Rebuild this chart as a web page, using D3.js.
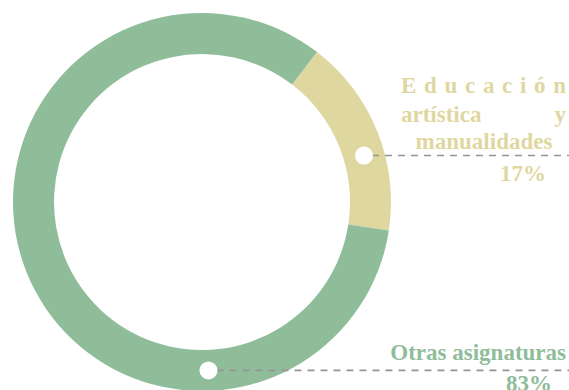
<!DOCTYPE html>
<html>
<head>
<meta charset="utf-8">
<script src="https://cdn.jsdelivr.net/npm/d3@7"></script>
<style>
	html, body { margin: 0; padding: 0; background: #fff; }
	svg { display: block; }
</style>
</head>
<body>
<div id="donut"></div>
<script>
var categories = ["Educación artística y manualidades", "Otras asignaturas"];
var values = [17, 83];
var percentLabels = ["17%", "83%"];

var w = 569,
	h = 390,
	cx = 202,
	cy = 202,
	outerR = 189,
	innerR = 148,
	startDeg = 37.5,
	colors = ["#dfd7a0", "#8fbd9a"],
	// where the white marker sits on each slice (degrees, clockwise from 12 o'clock)
	markerDeg = [74, 177.8];

var rad = function(d) { return d * Math.PI / 180; };

var svg = d3.select("#donut")
			.append("svg")
			.attr("width", w)
			.attr("height", h)

var ring = svg.append("g")
			.attr("transform", "translate(" + cx + "," + cy + ")")

var pie = d3.pie()
			.sort(null)
			.startAngle(rad(startDeg))
			.endAngle(rad(startDeg + 360))

var arc = d3.arc()
			.innerRadius(innerR)
			.outerRadius(outerR)

ring.selectAll("path")
	.data(pie(values))
	.enter().append("path")
	.attr("d", arc)
	.style("fill", function(d, i) { return colors[i]; })

var midR = (innerR + outerR) / 2;
var markers = markerDeg.map(function(a) {
	return [cx + midR * Math.sin(rad(a)), cy - midR * Math.cos(rad(a))];
});

// dashed leader lines
svg.selectAll(".leader")
	.data(markers)
	.enter().append("line")
	.attr("class", "leader")
	.attr("x1", function(d) { return d[0] + 8; })
	.attr("x2", w)
	.attr("y1", function(d) { return d[1]; })
	.attr("y2", function(d) { return d[1]; })
	.style("stroke", "#959595")
	.style("stroke-width", 1.6)
	.style("stroke-dasharray", "7,6")

svg.selectAll(".dot")
	.data(markers)
	.enter().append("circle")
	.attr("class", "dot")
	.attr("cx", function(d) { return d[0]; })
	.attr("cy", function(d) { return d[1]; })
	.attr("r", 9)
	.style("fill", "#fff")

var font = "bold 23px 'Liberation Serif', 'Times New Roman', serif";

// label 1: justified block
var words = categories[0].split(" ");
var lab1 = svg.append("g").style("font", font).style("fill", colors[0]);

lab1.append("text")
	.attr("x", 401)
	.attr("y", 93)
	.attr("textLength", 165)
	.attr("lengthAdjust", "spacing")
	.text(words[0])

lab1.append("text")
	.attr("x", 401)
	.attr("y", 121.5)
	.text(words[1])

lab1.append("text")
	.attr("x", 566)
	.attr("y", 121.5)
	.style("text-anchor", "end")
	.text(words[2])

lab1.append("text")
	.attr("x", 484)
	.attr("y", 149)
	.style("text-anchor", "middle")
	.text(words[3])

lab1.append("text")
	.attr("x", 523)
	.attr("y", 181)
	.style("text-anchor", "middle")
	.text(percentLabels[0])

// label 2
var lab2 = svg.append("g").style("font", font).style("fill", colors[1]);

lab2.append("text")
	.attr("x", 566)
	.attr("y", 360)
	.style("text-anchor", "end")
	.text(categories[1])

lab2.append("text")
	.attr("x", 529)
	.attr("y", 391)
	.style("text-anchor", "middle")
	.text(percentLabels[1])
</script>
</body>
</html>
